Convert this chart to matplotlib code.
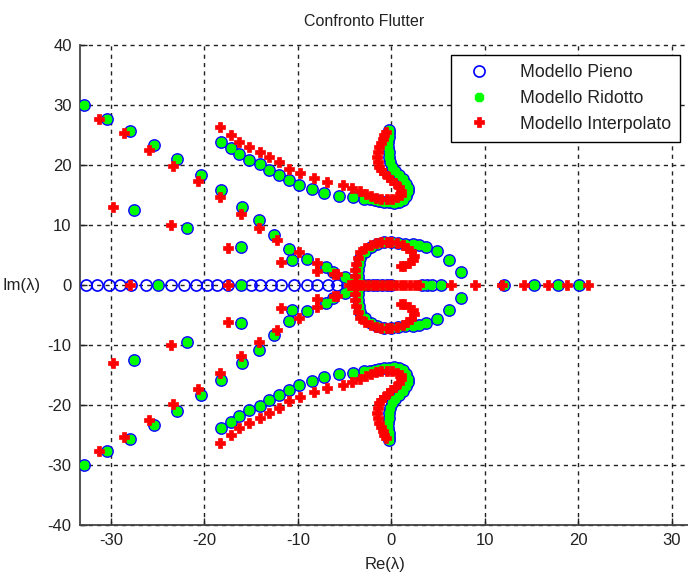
import matplotlib
matplotlib.use("Agg")
import matplotlib.pyplot as plt
import numpy as np

plt.rcParams['font.family'] = ['Liberation Sans', 'DejaVu Sans']
plt.rcParams['axes.unicode_minus'] = False

# ---------------- data (upper half-plane; lower half is the complex conjugate) ----------------
# Modello Pieno / Ridotto: complex branches (they coincide)
branchA_x = [-18.2, -17.2, -16.3, -15.2, -14.1, -13.1, -12.0, -11.0, -9.9, -8.5, -7.2, -5.6, -4.1,
             -2.9, -2.3, -1.8, -1.3, -0.8, -0.3, 0.3, 0.8, 1.2, 1.6, 1.8, 1.8, 1.6, 1.2, 0.8, 0.4,
             0.1, -0.1, -0.2, -0.3, -0.4, -0.4, -0.3, -0.25, -0.2]
branchA_y = [23.8, 22.9, 21.9, 20.9, 20.1, 19.2, 18.3, 17.5, 16.7, 16.0, 15.3, 14.8, 14.6,
             14.4, 14.3, 14.2, 14.0, 13.9, 13.8, 13.7, 13.9, 14.2, 14.8, 15.6, 16.2, 16.9, 17.6, 18.3, 19.0,
             19.7, 20.5, 21.4, 22.2, 23.0, 23.8, 24.7, 25.3, 25.8]
branchB_x = [-32.9, -30.4, -27.9, -25.4, -22.9, -20.4, -18.2, -16.0, -14.2, -12.5, -10.9, -9.0, -7.0, -5.0]
branchB_y = [30.0, 27.7, 25.7, 23.3, 21.0, 18.4, 15.8, 13.0, 10.8, 8.3, 6.0, 4.4, 3.0, 1.4]
branchC_x = [-27.5, -21.9, -16.1, -10.6, -6.2, -4.3]
branchC_y = [12.5, 9.5, 6.3, 4.2, 2.2, 0.8]
loop_x = [-3.5, -3.6, -3.6, -3.5, -3.3, -2.8, -2.2, -1.5, -0.8, 0.0, 0.7, 1.5, 2.3, 3.0, 3.7, 4.9, 6.2, 7.4]
loop_y = [0.5, 1.5, 2.5, 3.5, 4.5, 5.5, 6.3, 6.8, 7.1, 7.2, 7.0, 6.9, 6.8, 6.6, 6.4, 5.6, 4.2, 2.1]

pieno_real = [-32.7, -31.5, -30.2, -29.0, -27.8, -26.2, -25.0, -23.6, -22.2, -20.9, -19.7, -18.6,
              -17.5, -16.1, -15.0, -14.0, -12.9, -11.8, -10.4, -9.0, -7.9, -6.8, -5.8, -4.7, -4.2,
              -3.8, -3.4, -3.0, -2.5, -2.0, -1.5, -1.0, -0.5, 0.0, 3.3, 3.8, 4.3, 5.3,
              12.1, 15.3, 17.8, 20.1]
ridotto_real = [-25.0, -16.1, -4.5, -4.0, -3.5, -3.0, -2.0, -1.2, -0.5, 0.0, 3.5, 4.2, 5.3,
                12.1, 15.3, 17.8, 20.1]

# Modello Interpolato
redA_x = [-18.3, -17.2, -16.3, -15.2, -14.1, -13.1, -12.0, -10.9, -9.8, -8.3, -6.9, -5.2, -4.2,
          -3.3, -2.7, -2.2, -1.6, -1.1, -0.5, 0.1, 0.6, 1.0, 1.0, 0.8, 0.4, -0.05, -0.4, -0.8, -1.1,
          -1.3, -1.45, -1.5, -1.45, -1.3, -1.1, -0.9, -0.75, -0.6]
redA_y = [26.3, 25.0, 23.9, 23.0, 22.2, 21.4, 20.5, 19.4, 18.6, 17.9, 17.2, 16.7, 16.2,
          15.7, 15.2, 14.8, 14.5, 14.4, 14.3, 14.4, 14.6, 15.0, 15.7, 16.4, 17.0, 17.5, 18.0, 18.6, 19.1,
          19.7, 20.5, 21.4, 22.2, 23.0, 23.7, 24.4, 25.0, 25.5]
redB_x = [-31.3, -28.6, -25.9, -23.3, -20.7, -18.3, -16.1, -14.2, -12.2, -9.9, -7.9, -5.8]
redB_y = [27.6, 25.3, 22.5, 19.8, 17.4, 14.6, 11.8, 9.5, 7.5, 5.5, 3.6, 1.9]
redC_x = [-29.8, -23.6, -17.5, -11.8, -8.0, -6.1]
redC_y = [13.0, 10.0, 6.2, 3.9, 2.4, 1.8]
redLoop_x = [-3.8, -3.9, -3.9, -3.8, -3.6, -3.3, -2.8, -2.2, -1.6, -1.1, -0.5, 0.0, 0.6, 1.2, 1.7,
             2.1, 2.4, 2.3, 1.9, 1.4, 1.0]
redLoop_y = [0.5, 1.5, 2.5, 3.5, 4.5, 5.5, 6.1, 6.6, 7.0, 7.2, 7.2, 7.2, 7.0, 6.7, 6.2,
             5.6, 4.8, 4.2, 3.6, 3.2, 3.1]
interp_real = [-27.9, -17.5, -4.5, -4.0, -3.5, -3.0, -2.5, -2.0, -1.5, -1.0, -0.5, 0.0, 0.5, 1.0,
               1.5, 2.0, 2.5, 3.0, 6.4, 8.9, 11.8, 14.2, 16.7, 18.8, 21.0]

labels = ['Modello Pieno', 'Modello Ridotto', 'Modello Interpolato']
title = 'Confronto Flutter'
xticks = [-30, -20, -10, 0, 10, 20, 30]
yticks = [-40, -30, -20, -10, 0, 10, 20, 30, 40]


def assemble(xs_list, ys_list, real):
    xs = np.concatenate([np.asarray(v, float) for v in xs_list])
    ys = np.concatenate([np.asarray(v, float) for v in ys_list])
    r = np.asarray(real, float)
    X = np.concatenate([xs, xs, r])
    Y = np.concatenate([ys, -ys, np.zeros_like(r)])
    return X, Y


px, py = assemble([branchA_x, branchB_x, branchC_x, loop_x],
                  [branchA_y, branchB_y, branchC_y, loop_y], pieno_real)
gx, gy = assemble([branchA_x, branchB_x, branchC_x, loop_x],
                  [branchA_y, branchB_y, branchC_y, loop_y], ridotto_real)
rx, ry = assemble([redA_x, redB_x, redC_x, redLoop_x],
                  [redA_y, redB_y, redC_y, redLoop_y], interp_real)

# ---------------- figure ----------------
W, H = 688, 576
fig = plt.figure(figsize=(W / 100, H / 100), dpi=100)
x0, x1 = -33.3, 35.5
ppu = 9.35
left_px, top_px, bot_px = 80, 45, 525
ax = fig.add_axes([left_px / W, (H - bot_px) / H, (x1 - x0) * ppu / W, (bot_px - top_px) / H])

ax.plot(px, py, linestyle='none', marker='o', markersize=8, markerfacecolor='none',
        markeredgecolor='#0000ff', markeredgewidth=1.2, label=labels[0], zorder=3)
ax.plot(gx, gy, linestyle='none', marker='8', markersize=6.3, markerfacecolor='#00ff00',
        markeredgecolor='#00ff00', label=labels[1], zorder=4)
ax.plot(rx, ry, linestyle='none', marker='P', markersize=7.5, markerfacecolor='#ff0000',
        markeredgecolor='#ff0000', markeredgewidth=0.5, label=labels[2], zorder=5)

ax.set_xlim(x0, x1)
ax.set_ylim(-40, 40)
ax.set_xticks(xticks)
ax.set_yticks(yticks)
ax.tick_params(direction='in', length=5, width=1, labelsize=12, colors='#222222', pad=6)
ax.grid(True, color='#222222', linestyle=(0, (3, 3)), linewidth=1.0, clip_on=False)
ax.set_axisbelow(True)
for s in ['top', 'right']:
    ax.spines[s].set_visible(False)
for s in ['left', 'bottom']:
    ax.spines[s].set_color('#444444')
    ax.spines[s].set_linewidth(1.3)

fig.text(364 / W, 1 - 22 / H, title, ha='center', va='center', fontsize=11.5, color='#222222')
fig.text(385 / W, 1 - 565 / H, 'Re(λ)', ha='center', va='center', fontsize=12, color='#222222')
fig.text(22 / W, 1 - 285 / H, 'Im(λ)', ha='center', va='center', fontsize=12, color='#222222')

leg = ax.legend(loc='upper right', bbox_to_anchor=(680 / W, 1 - 55 / H),
                bbox_transform=fig.transFigure, numpoints=1, fontsize=12.8,
                fancybox=False, framealpha=1, edgecolor='black', borderpad=0.5,
                handletextpad=1.2, labelspacing=0.5, borderaxespad=0, handlelength=2.2)
leg.get_frame().set_linewidth(1.0)
for t in leg.get_texts():
    t.set_color('#222222')

fig.savefig('out.png', dpi=100)
